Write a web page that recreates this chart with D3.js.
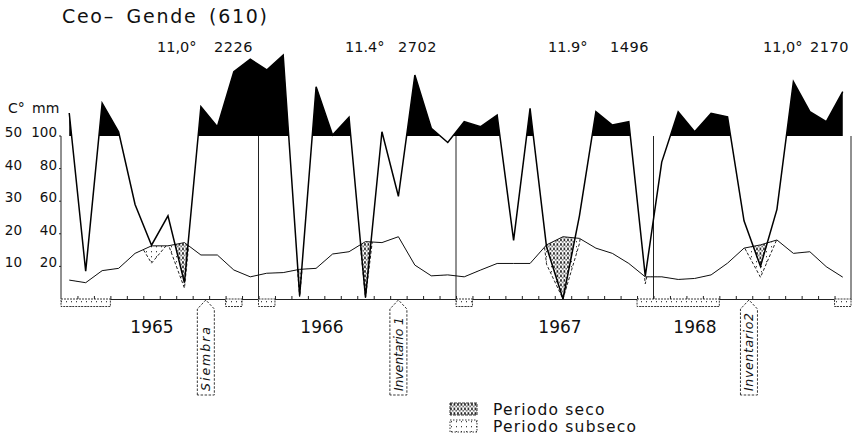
<!DOCTYPE html>
<html>
<head>
<meta charset="utf-8">
<script src="https://cdn.jsdelivr.net/npm/d3@7"></script>
<style>
  body { margin: 0; background: #fff; }
  svg text { font-family: "DejaVu Sans", sans-serif; fill: #111; }
</style>
</head>
<body>
<main></main>
<script>
// Climate diagram (Walter-Lieth style), station Ceo-Gende, 1965-1968

const title = "Ceo\u2013 Gende (610)";
const years = ["1965", "1966", "1967", "1968"];
const meanTempLabels = ["11,0°", "11.4°", "11.9°", "11,0°"];
const annualRain = ["2226", "2702", "1496", "2170"];

// monthly mean temperature, °C (Jan 1965 .. Dec 1968)
const tempC = [
    5.8, 5.0, 8.7, 9.4, 14.0, 16.3, 16.3, 17.3, 13.5, 13.5, 8.9, 6.8,
    7.9, 8.1, 9.1, 9.4, 13.8, 14.5, 17.6, 17.3, 19.1, 10.4, 7.1, 7.4,
    6.8, 8.9, 10.9, 10.9, 10.9, 16.6, 19.1, 18.6, 15.6, 14.0, 10.9, 6.8,
    6.8, 6.0, 6.3, 7.4, 11.0, 15.6, 16.6, 18.1, 14.0, 14.5, 9.9, 6.7
];

// monthly precipitation, mm
const rainMm = [
    241, 17, 302, 126, 58, 33, 51, 10, 280, 157, 494, 572,
    505, 597, 2, 402, 106, 215, 1, 126, 63, 474, 147, 96,
    188, 157, 229, 36, 270, 32, 0, 51, 249, 167, 188, 14,
    84, 249, 126, 239, 218, 48, 20, 55, 433, 249, 188, 372
];

// months with frost risk (boxes under the axis)
const frostMonths = [0, 1, 2, 10, 12, 24, 35, 36, 37, 38, 39, 47];

// field events, in months from Jan 1965
const eventNames = ["Siembra", "Inventario 1", "Inventario2"];
const eventMonths = [8.8, 20.5, 41.8];

const tempTicks = [10, 20, 30, 40, 50];
const rainTicks = [20, 40, 60, 80, 100];
const legendNames = ["Periodo seco", "Periodo subseco"];

let width = 852;
let height = 445;

const x = d3.scaleLinear().domain([0, 48]).range([61, 851]);
const yRain = d3.scaleLinear().domain([0, 100, 700]).range([299, 136, 38.2]);
const yTemp = d3.scaleLinear().domain([0, 50]).range([299, 136]);
const mx = (d, i) => x(i + 0.5);

const svg = d3.select("main")
    .append("svg")
    .attr("width", width)
    .attr("height", height);

svg.append("rect").attr("width", width).attr("height", height).attr("fill", "#fff");

// patterns and clips
const defs = svg.append("defs");

const seco = defs.append("pattern").attr("id", "seco")
    .attr("patternUnits", "userSpaceOnUse").attr("width", 3.5).attr("height", 4.5);
seco.append("rect").attr("width", 3.5).attr("height", 4.5).attr("fill", "#fff");
seco.append("rect").attr("x", 0.2).attr("y", 0.2).attr("width", 1.5).attr("height", 2.4).attr("fill", "#000");
seco.append("rect").attr("x", 2.1).attr("y", 2.6).attr("width", 1.2).attr("height", 1.5).attr("fill", "#222");

const subseco = defs.append("pattern").attr("id", "subseco")
    .attr("patternUnits", "userSpaceOnUse").attr("width", 5).attr("height", 5);
subseco.append("rect").attr("width", 5).attr("height", 5).attr("fill", "#fff");
subseco.append("rect").attr("x", 1).attr("y", 1).attr("width", 1).attr("height", 1.3).attr("fill", "#444");

defs.append("clipPath").attr("id", "above100")
    .append("rect").attr("x", 0).attr("y", 0).attr("width", width).attr("height", yRain(100));

defs.append("clipPath").attr("id", "belowTemp")
    .append("path")
    .attr("d", d3.area().x(mx).y0(330).y1(d => yTemp(d))(tempC));

// dry / sub-dry fills
const tempArea = d3.area().x(mx).y0((d, i) => yTemp(tempC[i]));

svg.append("path")
    .attr("d", tempArea.y1(d => yRain(d * 2 / 3))(rainMm))
    .attr("fill", "url(#subseco)")
    .attr("clip-path", "url(#belowTemp)");

svg.append("path")
    .attr("d", tempArea.y1(d => yRain(d))(rainMm))
    .attr("fill", "url(#seco)")
    .attr("clip-path", "url(#belowTemp)");

svg.append("path")
    .attr("d", d3.line().x(mx).y(d => yRain(d * 2 / 3))(rainMm))
    .attr("fill", "none")
    .attr("stroke", "#222")
    .attr("stroke-width", 1)
    .attr("stroke-dasharray", "3,2")
    .attr("clip-path", "url(#belowTemp)");

// wet period above 100 mm
svg.append("path")
    .attr("d", d3.area().x(mx).y0(yRain(100)).y1(d => yRain(d))(rainMm))
    .attr("fill", "#000")
    .attr("clip-path", "url(#above100)");

// axes frame
const axisG = svg.append("g").attr("stroke", "#222").attr("stroke-width", 1);
axisG.append("line").attr("x1", x(0)).attr("x2", x(0)).attr("y1", yRain(0)).attr("y2", yRain(100));
axisG.selectAll(".yd")
    .data([12, 24, 36, 48])
    .join("line")
    .attr("x1", d => x(d)).attr("x2", d => x(d))
    .attr("y1", yRain(0)).attr("y2", yRain(100));

svg.append("g")
    .attr("transform", `translate(0,${yRain(0)})`)
    .call(d3.axisTop(x).tickValues(d3.range(1, 48)).tickSize(3).tickSizeOuter(0).tickFormat(""))
    .call(g => g.selectAll("path,line").attr("stroke", "#222"));

// frost boxes: merge consecutive months
const runs = [];
frostMonths.forEach(m => {
    const last = runs[runs.length - 1];
    if (last && last[1] === m) last[1] = m + 1;
    else runs.push([m, m + 1]);
});
svg.selectAll(".frost")
    .data(runs)
    .join("rect")
    .attr("x", d => x(d[0]))
    .attr("y", yRain(0))
    .attr("width", d => x(d[1]) - x(d[0]))
    .attr("height", 7.5)
    .attr("fill", "url(#subseco)")
    .attr("stroke", "#222")
    .attr("stroke-width", 0.9)
    .attr("stroke-dasharray", "2,1");

// temperature and precipitation lines
svg.append("path")
    .attr("d", d3.line().x(mx).y(d => yTemp(d))(tempC))
    .attr("fill", "none")
    .attr("stroke", "#111")
    .attr("stroke-width", 1);

svg.append("path")
    .attr("d", d3.line().x(mx).y(d => yRain(d))(rainMm))
    .attr("fill", "none")
    .attr("stroke", "#000")
    .attr("stroke-width", 1.5)
    .attr("stroke-linejoin", "miter");

// y labels
svg.append("text").attr("x", 8).attr("y", 113).attr("font-size", 14).text("C°");
svg.append("text").attr("x", 32).attr("y", 113).attr("font-size", 14).text("mm");

svg.selectAll(".tl")
    .data(tempTicks)
    .join("text")
    .attr("x", 22).attr("y", d => yTemp(d) + 1)
    .attr("text-anchor", "end").attr("font-size", 13.5)
    .text(d => d);

svg.selectAll(".rl")
    .data(rainTicks)
    .join("text")
    .attr("x", 57).attr("y", d => yRain(d) + 1)
    .attr("text-anchor", "end").attr("font-size", 13.5)
    .text(d => d);

svg.selectAll(".rt")
    .data(rainTicks)
    .join("line")
    .attr("x1", x(0) - 2).attr("x2", x(0))
    .attr("y1", d => yRain(d)).attr("y2", d => yRain(d))
    .attr("stroke", "#222");

// title and yearly summaries
svg.append("text").attr("x", 62).attr("y", 23)
    .attr("font-size", 19).attr("letter-spacing", 1.7)
    .attr("word-spacing", 4)
    .text(title);

const tempLabelStart = [157, 345, 548, 763];
const rainLabelStart = [214, 398, 610, 810];
svg.selectAll(".mt")
    .data(meanTempLabels)
    .join("text")
    .attr("x", (d, i) => tempLabelStart[i]).attr("y", 52)
    .attr("font-size", 14.5)
    .text(d => d);
svg.selectAll(".ar")
    .data(annualRain)
    .join("text")
    .attr("x", (d, i) => rainLabelStart[i]).attr("y", 52)
    .attr("font-size", 14.5).attr("letter-spacing", 0.5)
    .text(d => d);

const yearLabelX = [152, 322, 560, 695];
svg.selectAll(".yr")
    .data(years)
    .join("text")
    .attr("x", (d, i) => yearLabelX[i]).attr("y", 333)
    .attr("text-anchor", "middle").attr("font-size", 17)
    .text(d => d);

// event arrows
const eventTextLen = [64, 74, 78];
const ev = svg.selectAll(".ev")
    .data(eventNames)
    .join("g")
    .attr("transform", (d, i) => `translate(${x(eventMonths[i])},${yRain(0) + 1})`);
ev.append("path")
    .attr("d", "M-8.5,95 L-8.5,9 L0,0 L8.5,9 L8.5,95 Z")
    .attr("fill", "#fff")
    .attr("stroke", "#222")
    .attr("stroke-width", 0.9)
    .attr("stroke-dasharray", "2.5,1.5");
ev.append("text")
    .attr("transform", "translate(4.5,91) rotate(-90)")
    .attr("font-size", 12.5)
    .attr("font-style", "italic")
    .attr("textLength", (d, i) => eventTextLen[i])
    .attr("lengthAdjust", "spacing")
    .text(d => d);

// legend
const lg = svg.selectAll(".lg")
    .data(legendNames)
    .join("g")
    .attr("transform", (d, i) => `translate(450,${403 + i * 17})`);
lg.append("rect")
    .attr("width", 27).attr("height", 12)
    .attr("fill", (d, i) => i === 0 ? "url(#seco)" : "url(#subseco)")
    .attr("stroke", "#222").attr("stroke-width", 0.9)
    .attr("stroke-dasharray", (d, i) => i === 0 ? "3,1" : "1.5,1.5");
lg.append("text")
    .attr("x", 43).attr("y", 12)
    .attr("font-size", 15.5)
    .attr("letter-spacing", 1.2)
    .text(d => d);
</script>
</body>
</html>
